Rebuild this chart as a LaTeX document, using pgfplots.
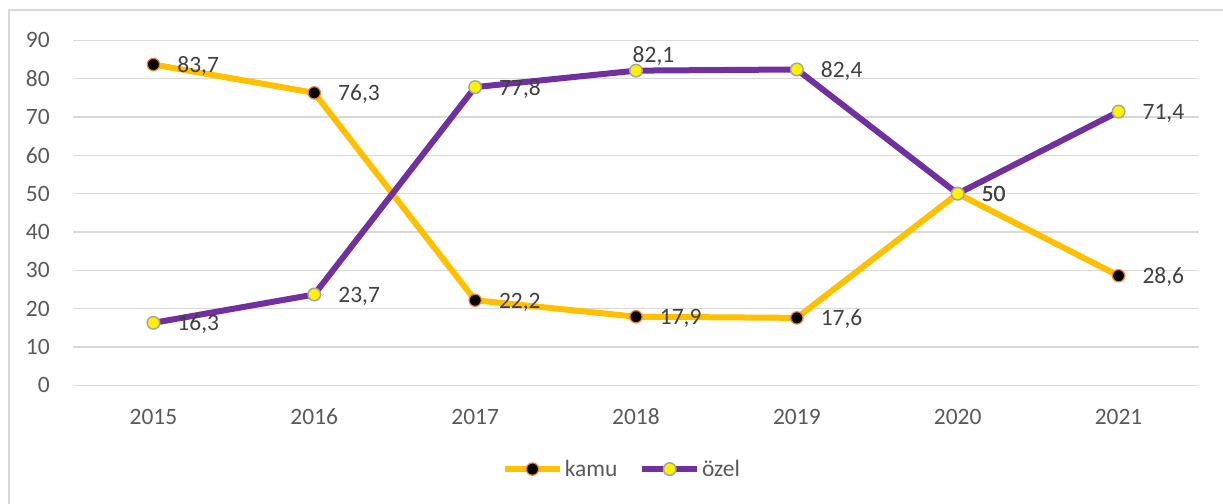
\documentclass[border=0pt]{standalone}
\usepackage{fontspec}
\setmainfont{Carlito}
\usepackage{pgfplots}
\usepackage{pgfplotstable}
\pgfplotsset{compat=1.18}
\definecolor{kamuc}{HTML}{FFC000}
\definecolor{ozelc}{HTML}{7030A0}
\definecolor{kamuedge}{HTML}{ED7D31}
\definecolor{ozeledge}{HTML}{A5A5A5}
\definecolor{gridc}{HTML}{D9D9D9}
\definecolor{tickc}{HTML}{595959}
\definecolor{labc}{HTML}{404040}

\pgfplotstableread{
year val dx dy
2015 83.7 17.5 -6
2016 76.3 17.5 -6
2017 22.2 17.5 -6
2018 17.9 17.5 -6
2019 17.6 17.5 -6
2020 50 17.5 -6
2021 28.6 17.5 -6
}\kamu
\pgfplotstableread{
year val dx dy
2015 16.3 17.5 -6
2016 23.7 17.5 -6
2017 77.8 17.5 -6
2018 82.1 -3 6
2019 82.4 17.5 -6
2020 50 17.5 -6
2021 71.4 17.5 -6
}\ozel

\begin{document}
\begin{tikzpicture}
\path[use as bounding box] (0,0) rectangle (917.25pt,-377.25pt);
\draw[gridc, line width=1.5pt] (6.75pt,-380pt) -- (6.75pt,-7.5pt) -- (920pt,-7.5pt);
\begin{axis}[
  at={(54.75pt,-289pt)}, anchor=south west,
  scale only axis, width=844.5pt, height=258.75pt,
  xmin=2014.5, xmax=2021.5, ymin=0, ymax=90,
  xtick={2015,2016,...,2021}, ytick={0,10,...,90},
  /pgf/number format/assume math mode=true,
  /pgf/number format/use comma,
  /pgf/number format/1000 sep={},
  axis line style={draw=none},
  major tick length=0pt,
  ymajorgrids, grid style={gridc, line width=1.2pt},
  font=\fontsize{17.6pt}{20pt}\selectfont,
  yticklabel style={anchor=east, inner sep=0pt, xshift=-17.25pt, text=tickc},
  xticklabel style={anchor=base, inner sep=0pt, yshift=-29pt, text=tickc},
  xticklabel={\pgfmathprintnumber[fixed,precision=0,1000 sep={}]{\tick}},
  clip=false,
  legend columns=2,
  legend style={at={(0.4876,-0.2428)}, anchor=center, draw=none, fill=none,
    text=tickc, font=\fontsize{17.6pt}{20pt}\selectfont,
    nodes={inner xsep=1.5pt, inner ysep=0pt},
    /tikz/every even column/.append style={column sep=15pt}},
  legend image code/.code={\draw[#1, mark repeat=2, mark phase=2] plot coordinates {(0pt,0pt) (20.5pt,0pt) (41pt,0pt)};},
]
\addplot[kamuc, line width=4.5pt, mark=*, mark size=4.6pt,
  mark options={fill=black, draw=kamuedge, line width=0.9pt},
  nodes near coords, point meta=y,
  visualization depends on={\thisrow{dx} \as \dx},
  visualization depends on={\thisrow{dy} \as \dy},
  every node near coord/.append style={anchor=base west, inner sep=0pt, xshift=\dx pt, yshift=\dy pt, text=labc}
  ] table[x=year, y=val] {\kamu};
\addlegendentry{kamu}
\addplot[ozelc, line width=4.5pt, mark=*, mark size=4.7pt,
  mark options={fill=yellow, draw=ozeledge, line width=1.1pt},
  nodes near coords, point meta=y,
  visualization depends on={\thisrow{dx} \as \dx},
  visualization depends on={\thisrow{dy} \as \dy},
  every node near coord/.append style={anchor=base west, inner sep=0pt, xshift=\dx pt, yshift=\dy pt, text=labc}
  ] table[x=year, y=val] {\ozel};
\addlegendentry{özel}
\end{axis}
\end{tikzpicture}
\end{document}
